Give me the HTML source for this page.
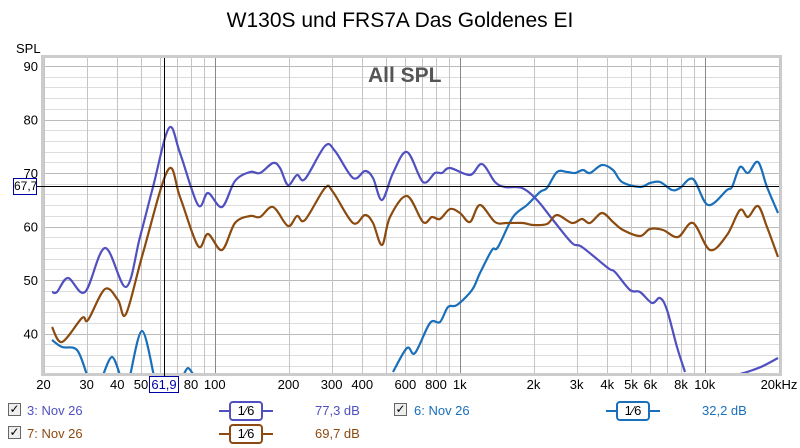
<!DOCTYPE html>
<html><head><meta charset="utf-8"><style>
body{margin:0;width:800px;height:448px;background:#fff;font-family:"Liberation Sans",sans-serif;overflow:hidden;position:relative}
.t{position:absolute;white-space:nowrap}
.cb{position:absolute;width:11px;height:11px;border:1px solid #666;background:#eee;font-size:12px;line-height:11px;text-align:center;color:#000}
.bd{position:absolute;height:16px;border:2px solid;border-radius:4px;width:30px;text-align:center;font-size:13px;line-height:16px;color:#000;background:#fff}
.ln{position:absolute;height:2px}
</style></head><body>
<svg id="s" width="800" height="448" style="position:absolute;left:0;top:0"></svg>
<div class="t" style="left:0;width:800px;text-align:center;top:9px;font-size:21px;color:#000">W130S und FRS7A Das Goldenes EI</div>
<div class="t" style="left:16px;top:41px;font-size:13px">SPL</div>
<div class="t" style="left:368px;top:64px;font-size:21px;font-weight:bold;color:#555">All SPL</div>
<div class="t" style="left:13px;top:178px;width:22px;height:15px;border:1px solid #00a;font-size:12px;line-height:15px;text-align:center;background:#fff">67,7</div>
<div class="t" style="left:149px;top:376px;width:28px;height:15px;border:1px solid #00a;font-size:13px;line-height:15px;text-align:center;background:#fff;color:#00a">61,9</div>
<div class="cb" style="left:8px;top:403px">✓</div>
<div class="t" style="left:27px;top:403px;font-size:13px;color:#5050c0">3: Nov 26</div>
<div class="ln" style="left:219px;top:410px;width:54px;background:#5050c0"></div>
<div class="bd" style="left:229px;top:401px;border-color:#5050c0">1⁄6</div>
<div class="t" style="left:315px;top:403px;font-size:13px;color:#5050c0">77,3 dB</div>
<div class="cb" style="left:394px;top:403px">✓</div>
<div class="t" style="left:414px;top:403px;font-size:13px;color:#1a6fba">6: Nov 26</div>
<div class="ln" style="left:606px;top:410px;width:54px;background:#1a6fba"></div>
<div class="bd" style="left:616px;top:401px;border-color:#1a6fba">1⁄6</div>
<div class="t" style="left:702px;top:403px;font-size:13px;color:#1a6fba">32,2 dB</div>
<div class="cb" style="left:8px;top:426px">✓</div>
<div class="t" style="left:27px;top:426px;font-size:13px;color:#8b4a0f">7: Nov 26</div>
<div class="ln" style="left:219px;top:433px;width:54px;background:#8b4a0f"></div>
<div class="bd" style="left:229px;top:424px;border-color:#8b4a0f">1⁄6</div>
<div class="t" style="left:315px;top:426px;font-size:13px;color:#8b4a0f">69,7 dB</div>
<script>
var s=document.getElementById('s'),h='';
var L=43.5,R=779,T=57,B=373;
function X(f){return L+245*Math.log10(f/20);}
function Y(d){return 66+(90-d)*5.35;}
h+='<rect x="41" y="55" width="741" height="321" fill="#ccc"/><rect x="44" y="58" width="735" height="315" fill="#fff"/>';
h+='<g shape-rendering="crispEdges">';
for(var d=34;d<=90;d+=2){var y=Math.round(Y(d))+0.5;if(y<T||y>B)continue;h+='<line x1="44" x2="779" y1="'+y+'" y2="'+y+'" stroke="'+(d%10?'#ddd':'#bbb')+'"/>';}
var fs=[];for(var dec=10;dec<=10000;dec*=10)for(var m=1;m<=9;m++)fs.push(dec*m);
fs.forEach(function(f){if(f<20||f>20000)return;var x=Math.round(X(f))+0.5;var maj=(f==100||f==1000||f==10000);h+='<line y1="58" y2="373" x1="'+x+'" x2="'+x+'" stroke="'+(maj?'#888':'#c4c4c4')+'"/>';});
h+='</g>';
[90,80,70,60,50,40].forEach(function(d){h+='<text x="38" y="'+(Y(d)+5)+'" font-size="13" text-anchor="end" font-family="Liberation Sans">'+d+'</text>';});
[[20,'20'],[30,'30'],[40,'40'],[50,'50'],[80,'80'],[100,'100'],[200,'200'],[300,'300'],[400,'400'],[600,'600'],[800,'800'],[1000,'1k'],[2000,'2k'],[3000,'3k'],[4000,'4k'],[5000,'5k'],[6000,'6k'],[8000,'8k'],[10000,'10k']].forEach(function(a){h+='<text x="'+X(a[0])+'" y="389" font-size="13" text-anchor="middle" font-family="Liberation Sans">'+a[1]+'</text>';});
h+='<text x="779" y="389" font-size="13" text-anchor="middle" font-family="Liberation Sans">20kHz</text>';
function P(pts,c){var d='M'+pts[0][0]+','+pts[0][1];for(var i=0;i<pts.length-1;i++){var p0=pts[i-1]||pts[i],p1=pts[i],p2=pts[i+1],p3=pts[i+2]||p2;d+=' C'+(p1[0]+(p2[0]-p0[0])/6)+','+(p1[1]+(p2[1]-p0[1])/6)+' '+(p2[0]-(p3[0]-p1[0])/6)+','+(p2[1]-(p3[1]-p1[1])/6)+' '+p2[0]+','+p2[1];}h+='<path d="'+d+'" fill="none" stroke="'+c+'" stroke-width="2.2" stroke-linejoin="round"/>';}
var pu=[[52,292],[57,292],[68,278],[85,292],[105,248],[126,287],[140,237],[153,187],[169,128],[180,153],[198,205],[208,193],[222,207],[235,181],[250,172],[260,173],[273,163],[280,168],[288,185],[297,175],[305,179],[325,146],[335,151],[353,178],[365,171],[373,178],[382,200],[393,173],[407,152],[423,182],[435,173],[442,173],[450,168],[470,175],[482,164],[495,182],[505,187],[522,188],[537,200],[553,220],[572,243],[582,247],[608,268],[615,272],[630,290],[640,292],[652,303],[660,298],[667,310],[677,347],[685,372]];
var br=[[52,327],[62,342],[82,318],[88,320],[105,289],[118,300],[126,314],[143,253],[168,170],[180,197],[198,246],[208,234],[222,250],[235,223],[250,216],[260,217],[273,207],[288,226],[297,216],[305,220],[325,188],[333,192],[353,223],[365,215],[373,223],[382,245],[390,217],[407,196],[423,222],[432,217],[440,219],[450,209],[460,213],[470,222],[480,205],[495,222],[507,223],[523,223],[533,225],[547,224],[557,215],[572,223],[582,219],[590,223],[602,213],[613,222],[623,230],[640,236],[650,229],[663,230],[678,237],[693,223],[710,250],[727,235],[740,210],[748,217],[758,206],[767,227],[778,257]];
var bl=[[393,372],[407,348],[415,353],[430,323],[440,322],[448,307],[457,305],[472,290],[480,273],[492,250],[498,247],[513,217],[527,205],[540,192],[547,188],[557,172],[567,172],[575,173],[583,170],[590,173],[602,165],[613,170],[622,182],[640,187],[650,183],[660,182],[672,190],[680,188],[693,179],[708,205],[727,190],[732,187],[740,167],[748,173],[758,162],[767,187],[778,213]];
h+='<defs><clipPath id="c"><rect x="44" y="58" width="735" height="315"/></clipPath></defs><g clip-path="url(#c)">';
P([[52,340],[62,347],[77,350],[87,375]],'#1a6fba');P([[103,375],[112,357],[120,375]],'#1a6fba');P([[130,376],[142,331],[154,376]],'#1a6fba');P([[184,374],[188,368],[193,374]],'#1a6fba');
P(bl,'#1a6fba');P(pu,'#5050c0');P([[740,374],[750,371],[763,366],[778,358]],'#5050c0');P(br,'#8b4a0f');
h+='</g>';
h+='<g shape-rendering="crispEdges"><line x1="36" x2="779" y1="186.5" y2="186.5" stroke="#000"/><line x1="164.5" x2="164.5" y1="58" y2="376" stroke="#000"/></g>';
s.innerHTML=h;
</script>
</body></html>
